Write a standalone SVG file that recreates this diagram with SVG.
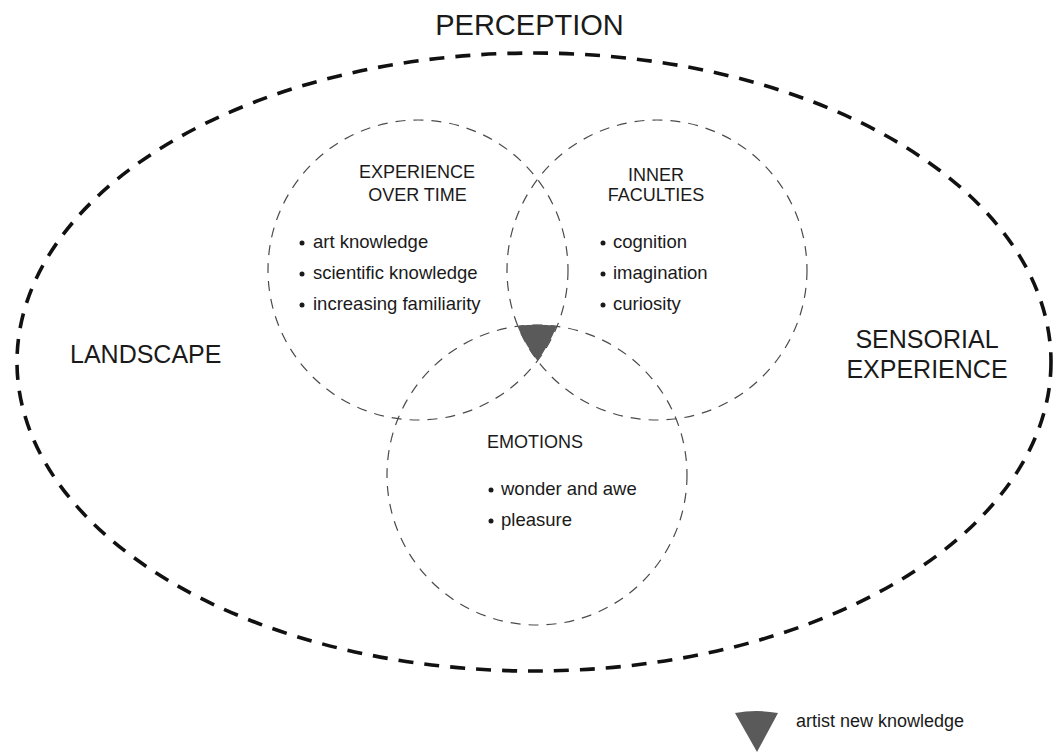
<svg xmlns="http://www.w3.org/2000/svg" width="1055" height="756" viewBox="0 0 1055 756">
  <style>
    text { font-family: "Liberation Sans", Arial, sans-serif; fill: #1a1a1a; }
    .big { font-size: 25px; }
    .title { font-size: 29px; }
    .head { font-size: 18px; }
    .item { font-size: 18.5px; }
    .legend { font-size: 18px; }
    .outer { fill: none; stroke: #111; stroke-width: 3.6; stroke-dasharray: 15 11; }
    .ring { fill: none; stroke: #4a4a4a; stroke-width: 1.2; stroke-dasharray: 10 8; }
    .dot { fill: #1a1a1a; }
    .tri { fill: #5a5a5a; }
  </style>
  <rect width="1055" height="756" fill="#ffffff"/>

  <g id="perception">
    <ellipse class="outer" cx="534" cy="362" rx="517" ry="309"/>
    <text class="title" x="529.5" y="35" text-anchor="middle">PERCEPTION</text>
  </g>

  <g id="landscape">
    <text class="big" x="70" y="363">LANDSCAPE</text>
  </g>

  <g id="sensorial-experience">
    <text class="big" x="927" y="348" text-anchor="middle">SENSORIAL</text>
    <text class="big" x="927" y="378" text-anchor="middle">EXPERIENCE</text>
  </g>

  <g id="experience-over-time">
    <circle class="ring" cx="418" cy="270" r="150"/>
    <text class="head" x="417" y="178" text-anchor="middle">EXPERIENCE</text>
    <text class="head" x="417.5" y="201" text-anchor="middle">OVER TIME</text>
    <circle class="dot" cx="302" cy="243" r="2.5"/>
    <text class="item" x="313" y="248">art knowledge</text>
    <circle class="dot" cx="302" cy="274" r="2.5"/>
    <text class="item" x="313" y="279">scientific knowledge</text>
    <circle class="dot" cx="302" cy="305" r="2.5"/>
    <text class="item" x="313" y="310">increasing familiarity</text>
  </g>

  <g id="inner-faculties">
    <circle class="ring" cx="657" cy="270" r="150"/>
    <text class="head" x="656" y="181" text-anchor="middle">INNER</text>
    <text class="head" x="656" y="201" text-anchor="middle">FACULTIES</text>
    <circle class="dot" cx="603" cy="243" r="2.5"/>
    <text class="item" x="613" y="248">cognition</text>
    <circle class="dot" cx="603" cy="274" r="2.5"/>
    <text class="item" x="613" y="279">imagination</text>
    <circle class="dot" cx="603" cy="305" r="2.5"/>
    <text class="item" x="613" y="310">curiosity</text>
  </g>

  <g id="emotions">
    <circle class="ring" cx="537" cy="475" r="150"/>
    <text class="head" x="487" y="448">EMOTIONS</text>
    <circle class="dot" cx="491" cy="490" r="2.5"/>
    <text class="item" x="501" y="495">wonder and awe</text>
    <circle class="dot" cx="491" cy="521" r="2.5"/>
    <text class="item" x="501" y="526">pleasure</text>
  </g>

  <g id="artist-new-knowledge">
    <path class="tri" d="M 517.3 326 A 150 150 0 0 1 556.7 326 A 150 150 0 0 1 537.5 360.7 A 150 150 0 0 1 517.3 326 Z"/>
  </g>

  <g id="legend">
    <path class="tri" d="M 735 713 Q 756.5 709 778 713 L 757 752 Z"/>
    <text class="legend" x="796" y="727">artist new knowledge</text>
  </g>
</svg>
